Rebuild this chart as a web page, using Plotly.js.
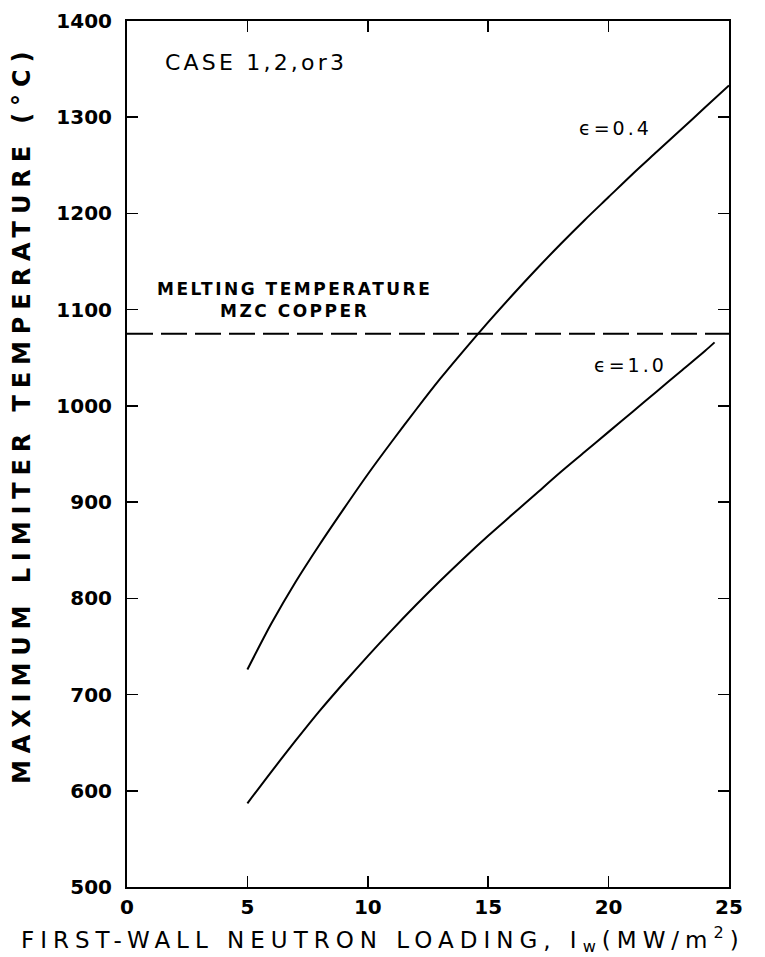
<!DOCTYPE html>
<html>
<head>
<meta charset="utf-8">
<script src="https://cdn.plot.ly/plotly-3.0.1.min.js"></script>
<style>html,body{margin:0;padding:0;background:#fff;}</style>
</head>
<body>
<div id="chart" style="width:765px;height:957px;"></div>
<script>
// Data
const loading04 = [5, 6, 7, 8, 9, 10, 11, 12, 13, 14, 15, 16, 17, 18, 19, 20, 21, 22, 23, 24, 25];
const temp04    = [726, 774, 817, 856, 893, 929, 963, 996, 1028, 1058, 1087, 1115, 1142, 1168, 1193, 1217, 1241, 1264, 1287, 1310, 1333];
const loading10 = [5, 6, 7, 8, 9, 10, 11, 12, 13, 14, 15, 16, 17, 18, 19, 20, 21, 22, 23, 24, 24.4];
const temp10    = [587, 620, 652, 683, 712, 740, 767, 793, 818, 842, 865, 887, 909, 931, 952, 973, 994, 1015, 1036, 1057, 1066];
const meltX = [0, 25];
const meltY = [1075, 1075];
const xTicks = [0, 5, 10, 15, 20, 25];
const yTicks = [500, 600, 700, 800, 900, 1000, 1100, 1200, 1300, 1400];
const xTitle = 'FIRST-WALL NEUTRON LOADING, I<sub>w</sub>(MW/m<sup>2</sup>)';
const yTitle = 'MAXIMUM LIMITER TEMPERATURE (°C)';

const FONT = "DejaVu Sans, Liberation Sans, sans-serif";
const spaced = (t, s) => '<span style="letter-spacing:' + s + 'px">' + t + '</span>';

const traces = [
  {x: loading04, y: temp04, mode: 'lines', line: {color: '#000', width: 2, shape: 'spline', smoothing: 0.8}, hoverinfo: 'skip'},
  {x: loading10, y: temp10, mode: 'lines', line: {color: '#000', width: 2, shape: 'spline', smoothing: 0.8}, hoverinfo: 'skip'},
  {x: meltX, y: meltY, mode: 'lines', line: {color: '#000', width: 2, dash: '26px,8px'}, hoverinfo: 'skip'}
];

const axisCommon = {
  showgrid: false, zeroline: false, showline: true, linecolor: '#000', linewidth: 2,
  mirror: 'ticks', ticks: 'inside', ticklen: 11, tickwidth: 1.5, tickcolor: '#000',
  tickfont: {family: FONT, size: 20, color: '#000', weight: 'bold'}
};

const layout = {
  width: 765, height: 957,
  margin: {l: 127, r: 36, t: 21, b: 70},
  paper_bgcolor: '#fff', plot_bgcolor: '#fff',
  showlegend: false,
  xaxis: Object.assign({}, axisCommon, {
    range: [0, 25], tickvals: xTicks, ticklabelstandoff: 1
  }),
  yaxis: Object.assign({}, axisCommon, {
    range: [500, 1400], tickvals: yTicks, ticklabelstandoff: 9
  }),
  annotations: [
    {x: 0.425, y: -0.061, xref: 'paper', yref: 'paper', xanchor: 'center', yanchor: 'middle', showarrow: false,
     text: spaced(xTitle, 6), font: {family: FONT, size: 23, color: '#000'}},
    {x: -0.1744, y: 0.545, xref: 'paper', yref: 'paper', xanchor: 'center', yanchor: 'middle', showarrow: false,
     textangle: -90, text: spaced(yTitle, 6.9), font: {family: FONT, size: 24, color: '#000', weight: 'bold'}},
    {x: 1.5, y: 1357, xref: 'x', yref: 'y', xanchor: 'left', yanchor: 'middle', showarrow: false,
     text: spaced('CASE 1,2,or3', 3.2), font: {family: FONT, size: 22, color: '#000'}},
    {x: 6.95, y: 1110, xref: 'x', yref: 'y', xanchor: 'center', yanchor: 'middle', showarrow: false,
     text: spaced('MELTING TEMPERATURE<br>MZC COPPER', 2.5),
     font: {family: FONT, size: 17, color: '#000', weight: 'bold'}},
    {x: 18.7, y: 1289, xref: 'x', yref: 'y', xanchor: 'left', yanchor: 'middle', showarrow: false,
     text: spaced('ϵ=0.4', 3), font: {family: FONT, size: 19, color: '#000'}},
    {x: 19.3, y: 1043, xref: 'x', yref: 'y', xanchor: 'left', yanchor: 'middle', showarrow: false,
     text: spaced('ϵ=1.0', 3), font: {family: FONT, size: 19, color: '#000'}}
  ]
};

Plotly.newPlot('chart', traces, layout, {staticPlot: true, displayModeBar: false});
</script>
</body>
</html>
